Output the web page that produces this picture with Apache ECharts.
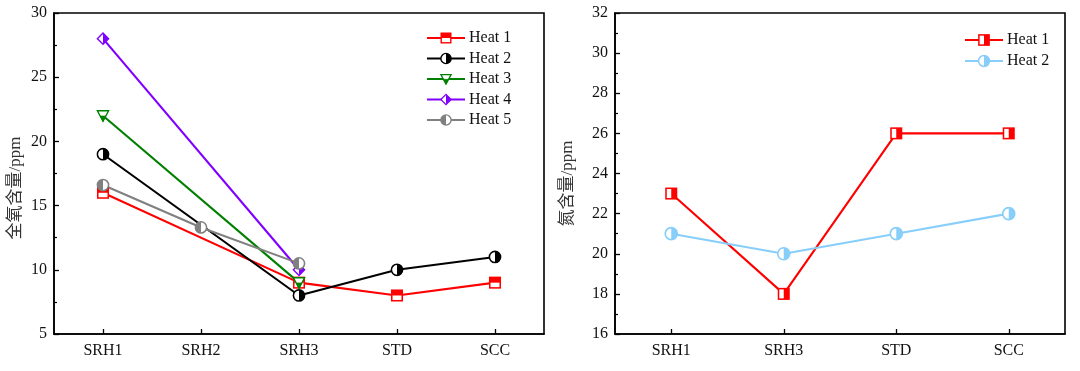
<!DOCTYPE html>
<html>
<head>
<meta charset="utf-8">
<script src="https://cdn.jsdelivr.net/npm/echarts@6/dist/echarts.min.js"></script>
<style>html,body{margin:0;padding:0;background:#fff;}#c{width:1080px;height:371px;}</style>
</head>
<body>
<div id="c"></div>
<script>
// ---- data ----
const catsO = ['SRH1', 'SRH2', 'SRH3', 'STD', 'SCC'];
const oHeat1 = [16, null, 9, 8, 9];
const oHeat2 = [19, null, 8, 10, 11];
const oHeat3 = [22, null, 9, null, null];
const oHeat4 = [28, null, 10, null, null];
const oHeat5 = [16.6, 13.3, 10.5, null, null];
const catsN = ['SRH1', 'SRH3', 'STD', 'SCC'];
const nHeat1 = [23, 18, 26, 26];
const nHeat2 = [21, 20, 21, 22];

function svgSym(inner) {
  const s = "<svg xmlns='http://www.w3.org/2000/svg' width='40' height='40' viewBox='0 0 20 20'>" + inner + "</svg>";
  return 'image://data:image/svg+xml;charset=utf-8,' + encodeURIComponent(s);
}
const symH1 = svgSym("<rect x='2.5' y='2.5' width='15' height='15' fill='white' stroke='#ff0000' stroke-width='2.2'/><rect x='2.5' y='2.5' width='15' height='7.5' fill='#ff0000'/>");
const symH2 = svgSym("<circle cx='10' cy='10' r='8' fill='white' stroke='#000' stroke-width='2.2'/><path d='M10 2 A8 8 0 0 1 10 18 Z' fill='#000'/>");
const symH3 = svgSym("<polygon points='2,3 18,3 10,18' fill='white' stroke='#008000' stroke-width='2' stroke-linejoin='miter'/><polygon points='6,10.5 14,10.5 10,18' fill='#008000' stroke='#008000' stroke-width='1'/>");
const symH4 = svgSym("<polygon points='10,2 18,10 10,18 2,10' fill='white' stroke='#8000ff' stroke-width='2'/><polygon points='10,2 18,10 10,18' fill='#8000ff'/>");
const symH5 = svgSym("<circle cx='10' cy='10' r='8' fill='white' stroke='#808080' stroke-width='2.2'/><path d='M10 2 A8 8 0 0 0 10 18 Z' fill='#808080'/>");
const symN1 = svgSym("<rect x='2.5' y='2.5' width='15' height='15' fill='white' stroke='#ff0000' stroke-width='2.2'/><rect x='10' y='2.5' width='7.5' height='15' fill='#ff0000'/>");
const symN2 = svgSym("<circle cx='10' cy='10' r='8' fill='white' stroke='#87cefa' stroke-width='2.2'/><path d='M10 2 A8 8 0 0 1 10 18 Z' fill='#87cefa'/>");

const FONT = "'Liberation Serif', 'Times New Roman', serif";
const CJK = "'Liberation Serif', 'Noto Sans CJK SC', serif";

function xAxis(idx, cats) {
  return {
    type: 'category', gridIndex: idx, data: cats, boundaryGap: true,
    axisLine: { lineStyle: { color: '#000', width: 1.6 } },
    axisTick: { show: true, inside: true, alignWithLabel: true, length: 5, lineStyle: { color: '#000', width: 1.3 } },
    axisLabel: { color: '#111', fontFamily: FONT, fontSize: 16, margin: 9 },
    splitLine: { show: false }
  };
}
function yAxis(idx, min, max, interval, name, gap, shift) {
  return {
    type: 'value', gridIndex: idx, min: min, max: max, interval: interval,
    name: name, nameLocation: 'middle', nameGap: gap, nameRotate: 90,
    nameTextStyle: { fontFamily: CJK, fontSize: 17, color: '#333', padding: [0, shift, 0, 0] },
    axisLine: { show: true, lineStyle: { color: '#000', width: 1.6 } },
    axisTick: { show: true, inside: true, length: 5, lineStyle: { color: '#000', width: 1.3 } },
    minorTick: { show: true, splitNumber: 2, length: 3, lineStyle: { color: '#000', width: 1.2 } },
    axisLabel: { color: '#111', fontFamily: FONT, fontSize: 16, margin: 7 },
    splitLine: { show: false }
  };
}
function line(name, data, color, sym, size, xi, yi) {
  return {
    type: 'line', name: name, data: data, xAxisIndex: xi, yAxisIndex: yi,
    connectNulls: true, symbol: sym, symbolSize: size, showAllSymbol: true,
    lineStyle: { color: color, width: 2.1 }, itemStyle: { color: color },
    emphasis: { disabled: true }, animation: false, z: 3
  };
}

const chart = echarts.init(document.getElementById('c'), null, { renderer: 'canvas' });
chart.setOption({
  animation: false,
  backgroundColor: '#fff',
  grid: [
    { left: 54, top: 13, width: 490, height: 321, show: true, borderColor: '#000', borderWidth: 1.6, backgroundColor: 'transparent' },
    { left: 615, top: 13, width: 450, height: 321, show: true, borderColor: '#000', borderWidth: 1.6, backgroundColor: 'transparent' }
  ],
  xAxis: [xAxis(0, catsO), xAxis(1, catsN)],
  yAxis: [yAxis(0, 5, 30, 5, '全氧含量/ppm', 30, 29), yAxis(1, 16, 32, 2, '氮含量/ppm', 39, 20)],
  legend: [
    { left: 421, top: 25, orient: 'vertical', itemWidth: 38, itemHeight: 16, itemGap: 4.5,
      textStyle: { fontFamily: FONT, fontSize: 16, color: '#111', padding: [0,0,0,-1] },
      data: ['Heat 1', 'Heat 2', 'Heat 3', 'Heat 4', 'Heat 5'] },
    { left: 959, top: 27, orient: 'vertical', itemWidth: 38, itemHeight: 17, itemGap: 5,
      textStyle: { fontFamily: FONT, fontSize: 16, color: '#111', padding: [0,0,0,-1] },
      data: ['Heat 1 ', 'Heat 2 '] }
  ],
  series: [
    line('Heat 1', oHeat1, '#ff0000', symH1, 14, 0, 0),
    line('Heat 2', oHeat2, '#000000', symH2, 14, 0, 0),
    line('Heat 3', oHeat3, '#008000', symH3, 14, 0, 0),
    line('Heat 4', oHeat4, '#8000ff', symH4, 14, 0, 0),
    line('Heat 5', oHeat5, '#808080', symH5, 14, 0, 0),
    line('Heat 1 ', nHeat1, '#ff0000', symN1, 14, 1, 1),
    line('Heat 2 ', nHeat2, '#87cefa', symN2, 15, 1, 1)
  ]
});
</script>
</body>
</html>
